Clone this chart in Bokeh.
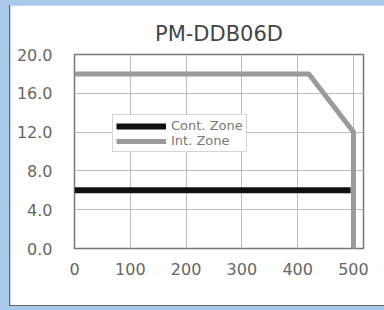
from bokeh.plotting import figure
from bokeh.layouts import column
from bokeh.models import Range1d, FixedTicker, Legend, LegendItem
from bokeh.embed import file_html
from bokeh.resources import INLINE

title_text = "PM-DDB06D"
x_ticks = [0, 100, 200, 300, 400, 500]
y_ticks = [0, 4, 8, 12, 16, 20]
y_tick_labels = ["0.0", "4.0", "8.0", "12.0", "16.0", "20.0"]

cont_x = [0, 495]
cont_y = [6.0, 6.0]
int_x = [0, 420, 500, 500]
int_y = [18.0, 18.0, 12.0, 0.0]

FONT = "DejaVu Sans"
BLUE = "#a9c9ec"

p = figure(width=375, height=301, output_backend="svg", toolbar_location=None,
           x_range=Range1d(0, 518), y_range=Range1d(0, 20),
           min_border_left=64, min_border_right=22, min_border_top=49, min_border_bottom=58,
           styles={"border-left": "1.5px solid #666666", "border-bottom": "1.5px solid #666666",
                   "box-sizing": "border-box"})
p.background_fill_color = "white"
p.border_fill_color = "white"
p.outline_line_color = "#777777"
p.outline_line_width = 1.5

p.title.text = title_text
p.title.align = "center"
p.title.text_font = FONT
p.title.text_font_size = "21px"
p.title.text_font_style = "normal"
p.title.text_color = "#444444"
p.title.standoff = 17

for ax in (p.xaxis[0], p.yaxis[0]):
    ax.axis_line_color = None
    ax.major_tick_line_color = None
    ax.minor_tick_line_color = None
    ax.major_label_text_font = FONT
    ax.major_label_text_font_size = "16px"
    ax.major_label_text_color = "#666666"

p.xaxis[0].ticker = FixedTicker(ticks=x_ticks)
p.xaxis[0].major_label_standoff = 8
p.yaxis[0].ticker = FixedTicker(ticks=y_ticks)
p.yaxis[0].major_label_overrides = {t: s for t, s in zip(y_ticks, y_tick_labels)}
p.yaxis[0].major_label_standoff = 16

p.xgrid.ticker = FixedTicker(ticks=x_ticks)
p.ygrid.ticker = FixedTicker(ticks=y_ticks)
for g in (p.xgrid[0], p.ygrid[0]):
    g.grid_line_color = "#bbbbbb"
    g.grid_line_width = 1

r_cont = p.line(cont_x, cont_y, line_color="#111111", line_width=6)
r_int = p.line(int_x, int_y, line_color="#9a9a9a", line_width=5)

legend = Legend(items=[LegendItem(label="Cont. Zone", renderers=[r_cont]),
                       LegendItem(label="Int. Zone", renderers=[r_int])],
                location=(38, 96))
legend.label_text_font = FONT
legend.label_text_font_size = "13px"
legend.label_text_color = "#777777"
legend.glyph_width = 50
legend.glyph_height = 12
legend.label_height = 12
legend.label_standoff = 5
legend.spacing = 0
legend.padding = 3
legend.margin = 0
legend.border_line_color = "#aaaaaa"
legend.border_line_width = 1
legend.background_fill_color = "white"
legend.background_fill_alpha = 1
p.add_layout(legend, "center")

page = column(p, styles={"background-color": BLUE, "padding": "5px 0px 4px 9px"})

open("out.html", "w").write(file_html(page, INLINE))
